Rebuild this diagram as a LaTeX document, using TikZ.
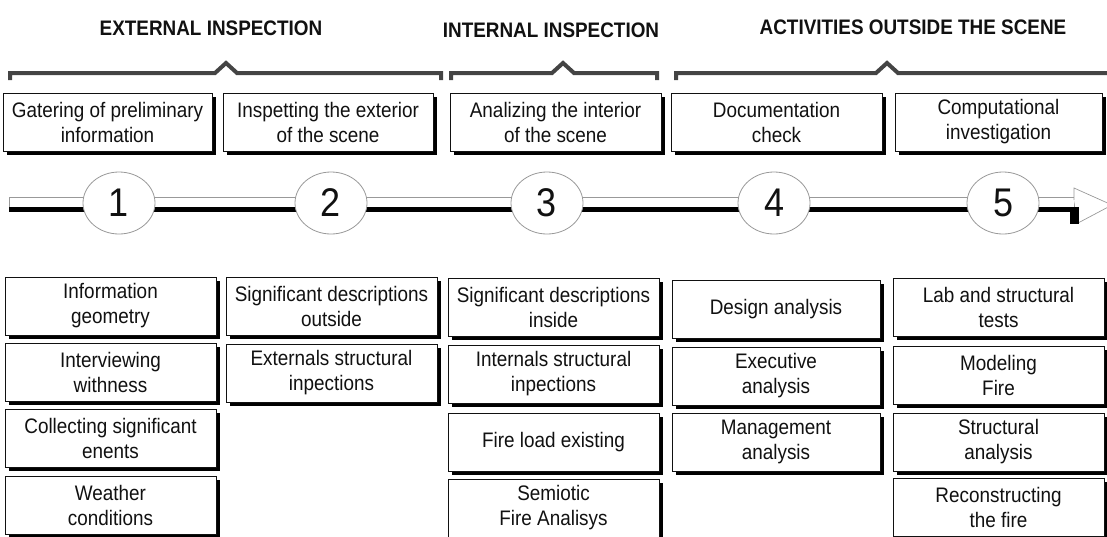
\documentclass[tikz,border=0pt]{standalone}
\usepackage{fontspec}
\setmainfont{Liberation Sans}[FakeStretch=0.9]
\usetikzlibrary{shapes.geometric,shadows,backgrounds}
\definecolor{ink}{HTML}{111111}
\definecolor{bracec}{HTML}{444444}
\begin{document}
\begin{tikzpicture}[x=1pt,y=-1pt,
  box/.style={draw=ink, line width=1pt, fill=white, inner sep=0pt, align=center,
    text=ink, font=\fontsize{21}{25}\selectfont, minimum width=211pt, minimum height=58pt,
    drop shadow={shadow xshift=3.5pt, shadow yshift=-3.5pt, fill=black, opacity=1}},
  head/.style={font=\fontsize{21}{22}\selectfont\bfseries, text=ink, inner sep=0pt, anchor=base},
  num/.style={ellipse, draw=gray!80, line width=0.8pt, fill=white, minimum width=72pt,
    minimum height=62pt, inner sep=0pt, text=ink, font=\fontsize{40}{40}\selectfont},
  brace/.style={draw=bracec, line width=4pt, line join=miter},
  bartop/.style={fill=white, draw=gray!80, line width=0.7pt},
  barbot/.style={fill=black}
]
\useasboundingbox (0,0) rectangle (1107,536);

% headers
\node[head] (h1) at (211,35) {EXTERNAL INSPECTION};
\node[head] (h2) at (551,37) {INTERNAL INSPECTION};
\node[head] (h3) at (913,34) {ACTIVITIES OUTSIDE THE SCENE};

% braces
\draw[brace] (10,80) -- (10,73) -- (215,73) -- (226,63) -- (237,73) -- (441,73) -- (441,80);
\draw[brace] (451,80) -- (451,73) -- (552,73) -- (563,63) -- (574,73) -- (657,73) -- (657,80);
\draw[brace] (676,80) -- (676,73) -- (876,73) -- (887,63) -- (898,73) -- (1112,73);

% top boxes
\node[box, minimum width=209pt] (t1) at (107.5,122) {Gatering of preliminary\\information};
\node[box, minimum width=210pt] (t2) at (328,122) {Inspetting the exterior\\of the scene};
\node[box] (t3) at (555.5,122) {Analizing the interior\\of the scene};
\node[box] (t4) at (776.5,122) {Documentation\\check};
\node[box, minimum width=207pt] (t5) at (998.5,122) {Computational\\investigation};

% timeline
\node[num] (c1) at (119,203) {1};
\node[num] (c2) at (331,203) {2};
\node[num] (c3) at (547,203) {3};
\node[num] (c4) at (774,203) {4};
\node[num] (c5) at (1003,203) {5};
\coordinate (start) at (9,203);
\coordinate (tip) at (1074,203);
\begin{scope}[on background layer]
  \foreach \a/\b in {start/c1,c1/c2,c2/c3,c3/c4,c4/c5,c5/tip}{
    \draw[bartop] ([yshift=6]\a.center) rectangle ([yshift=-4]\b.center);
    \fill[barbot] ([yshift=-4]\a.center) rectangle ([yshift=-9]\b.center);
  }
\end{scope}
\filldraw[fill=white, draw=gray!80, line width=0.7pt]
  ([yshift=3]tip) -- ([yshift=15]tip) -- ([xshift=38,yshift=-2]tip) -- ([xshift=4,yshift=-20]tip);
\fill[black] ([xshift=-4,yshift=-4]tip) rectangle ([xshift=5,yshift=-21]tip);

% bottom column 1
\node[box] (a1) at (110.5,306) {Information\\geometry};
\node[box] (a2) at (110.5,372) {Interviewing\\withness};
\node[box] (a3) at (110.5,438) {Collecting significant\\enents};
\node[box] (a4) at (110.5,505) {Weather\\conditions};
% column 2
\node[box] (b1) at (331.5,306) {Significant descriptions\\outside};
\node[box] (b2) at (331.5,373) {Externals structural\\inpections};
% column 3
\node[box] (d1) at (553.5,307) {Significant descriptions\\inside};
\node[box] (d2) at (553.5,374) {Internals structural\\inpections};
\node[box] (d3) at (553.5,442) {Fire load existing};
\node[box] (d4) at (553.5,508) {Semiotic\\Fire Analisys};
% column 4
\node[box, minimum width=208pt] (e1) at (776,309) {Design analysis};
\node[box, minimum width=208pt] (e2) at (776,376) {Executive\\analysis};
\node[box, minimum width=208pt] (e3) at (776,442) {Management\\analysis};
% column 5
\node[box] (f1) at (998.5,307) {Lab and structural\\tests};
\node[box] (f2) at (998.5,375) {Modeling\\Fire};
\node[box] (f3) at (998.5,442) {Structural\\analysis};
\node[box] (f4) at (998.5,507) {Reconstructing\\the fire};
\end{tikzpicture}
\end{document}
